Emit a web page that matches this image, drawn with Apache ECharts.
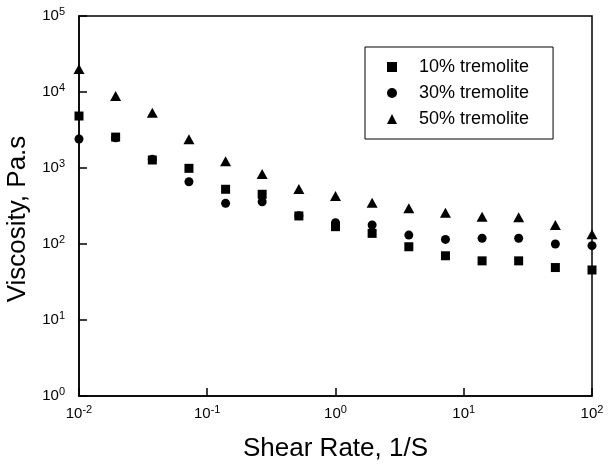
<!DOCTYPE html>
<html>
<head>
<meta charset="utf-8">
<script src="https://cdn.jsdelivr.net/npm/echarts@6/dist/echarts.min.js"></script>
<style>
  html, body { margin: 0; padding: 0; background: #fff; }
  #chart { width: 611px; height: 466px; }
</style>
</head>
<body>
<div id="chart"></div>
<script>
// Shear rate (1/s) at which each viscosity reading was taken
const shearRate = [0.01, 0.0193, 0.0373, 0.072, 0.139, 0.268, 0.518, 1.0, 1.93, 3.73, 7.2, 13.9, 26.8, 51.8, 100];

// Viscosity (Pa.s) for each tremolite loading
const visc10 = [4830, 2550, 1275, 990, 525, 451, 234, 169, 138, 92, 70, 60, 60, 49, 45.5];
const visc30 = [2410, 2500, 1300, 660, 343, 360, 236, 191, 178, 131, 115, 119, 119, 100, 95];
const visc50 = [20000, 8860, 5340, 2390, 1225, 834, 530, 429, 349, 295, 257, 229, 225, 178, 134];

const seriesNames = ['10% tremolite', '30% tremolite', '50% tremolite'];
const seriesSymbols = ['rect', 'circle', 'triangle'];

// Decade exponents shown as tick labels
const xExponents = [-2, -1, 0, 1, 2];
const yExponents = [0, 1, 2, 3, 4, 5];

const FONT = 'Liberation Sans, Arial, Helvetica, sans-serif';

function powerLabel(exps) {
  return function (v) {
    const e = Math.round(Math.log10(v));
    if (exps.indexOf(e) < 0) return '';
    return '{b|10}{s|' + e + '}';
  };
}

const richPow = {
  b: { fontSize: 15, fontFamily: FONT, color: '#000' },
  s: { fontSize: 11, fontFamily: FONT, color: '#000', padding: [0, 0, 9, 0] }
};

function pairs(ys) {
  return shearRate.map((x, i) => [x, ys[i]]);
}

const chart = echarts.init(document.getElementById('chart'), null, { renderer: 'canvas' });

const markStyle = { color: '#000', opacity: 1 };

chart.setOption({
  animation: false,
  backgroundColor: '#fff',
  grid: {
    left: 79, top: 16, width: 513, height: 380,
    outerBoundsMode: 'none',
    containLabel: false,
    show: true, borderColor: '#000', borderWidth: 1.5, backgroundColor: 'transparent'
  },
  legend: {
    orient: 'vertical',
    left: 365, top: 47,
    padding: [11, 24, 11, 22],
    itemGap: 8,
    itemWidth: 10, itemHeight: 10,
    borderColor: '#000', borderWidth: 1,
    backgroundColor: '#fff',
    textStyle: { fontSize: 18, fontFamily: FONT, color: '#000', padding: [0, 0, 0, 17] },
    data: seriesNames.map((n, i) => ({ name: n, icon: seriesSymbols[i], itemStyle: markStyle }))
  },
  xAxis: {
    type: 'log', logBase: 10, min: 0.01, max: 100,
    name: 'Shear Rate, 1/S',
    nameLocation: 'middle', nameGap: 40,
    nameTextStyle: { fontSize: 26, fontFamily: FONT, color: '#000' },
    axisLine: { lineStyle: { color: '#000', width: 1.5 } },
    axisTick: { inside: true, length: 8, lineStyle: { color: '#000', width: 1.5 } },
    minorTick: { show: false },
    splitLine: { show: false },
    axisLabel: { margin: 8, formatter: powerLabel(xExponents), rich: richPow }
  },
  yAxis: {
    type: 'log', logBase: 10, min: 1, max: 100000,
    name: 'Viscosity, Pa.s',
    nameLocation: 'middle', nameGap: 38,
    nameTextStyle: { fontSize: 26, fontFamily: FONT, color: '#000', padding: [0, 26, 0, 0] },
    axisLine: { lineStyle: { color: '#000', width: 1.5 } },
    axisTick: { inside: true, length: 8, lineStyle: { color: '#000', width: 1.5 } },
    splitLine: { show: false },
    axisLabel: { margin: 14, formatter: powerLabel(yExponents), rich: richPow }
  },
  series: [
    { name: seriesNames[0], type: 'scatter', symbol: 'rect', symbolSize: 9,
      itemStyle: markStyle, data: pairs(visc10), z: 3 },
    { name: seriesNames[1], type: 'scatter', symbol: 'circle', symbolSize: 9,
      itemStyle: markStyle, data: pairs(visc30), z: 2 },
    { name: seriesNames[2], type: 'scatter', symbol: 'triangle', symbolSize: [11, 10],
      itemStyle: markStyle, data: pairs(visc50), z: 2 }
  ]
});
</script>
</body>
</html>
